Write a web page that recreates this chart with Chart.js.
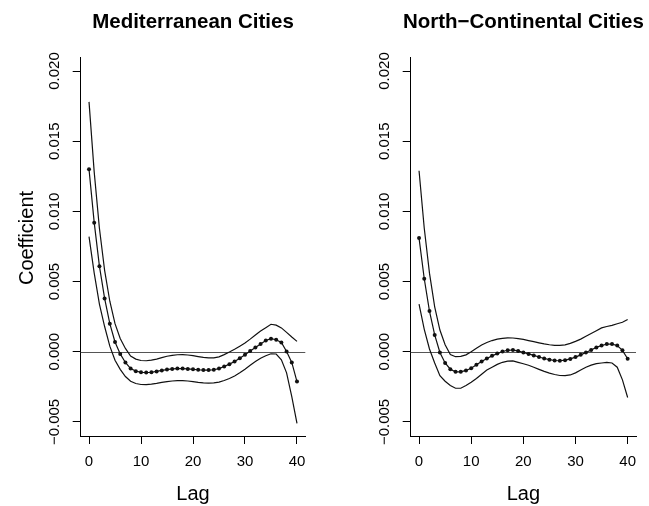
<!DOCTYPE html>
<html>
<head>
<meta charset="utf-8">
<script src="https://cdn.jsdelivr.net/npm/chart.js@4.4.1/dist/chart.umd.min.js"></script>
<style>
    html, body { margin: 0; padding: 0; background: #fff; }
    #wrap { position: relative; width: 649px; height: 506px; }
    canvas { position: absolute; top: 0; }
    #chart-med { left: 0; }
    #chart-nc { left: 330px; }
</style>
</head>
<body>
<div id="wrap">
    <canvas id="chart-med" width="330" height="506"></canvas>
    <canvas id="chart-nc" width="319" height="506"></canvas>
</div>
<script>
const lags = [0, 1, 2, 3, 4, 5, 6, 7, 8, 9, 10, 11, 12, 13, 14, 15, 16, 17, 18, 19, 20,
    21, 22, 23, 24, 25, 26, 27, 28, 29, 30, 31, 32, 33, 34, 35, 36, 37, 38, 39, 40];

// Mediterranean cities
const medCoef = [0.0130, 0.0092, 0.0061, 0.0038, 0.0020, 0.0007, -0.00015, -0.00076, -0.0012, -0.00138, -0.00146,
    -0.00148, -0.00146, -0.00140, -0.00133, -0.00127, -0.00122, -0.00120, -0.00120, -0.00122, -0.00125,
    -0.00128, -0.00130, -0.00130, -0.00128, -0.00120, -0.00105, -0.00088, -0.00069, -0.00046, -0.00021,
    0.00005, 0.00030, 0.00056, 0.00080, 0.00093, 0.00086, 0.00066, 0.00002, -0.00076, -0.00212];
const medUpper = [0.0178, 0.0128, 0.0088, 0.0058, 0.0036, 0.0020, 0.00095, 0.00024, -0.00030, -0.00052, -0.00062,
    -0.00064, -0.00060, -0.00052, -0.00042, -0.00032, -0.00025, -0.00021, -0.00020, -0.00023, -0.00028,
    -0.00034, -0.00040, -0.00044, -0.00043, -0.00036, -0.00020, -0.00002, 0.00018, 0.00040, 0.00062,
    0.00090, 0.00120, 0.00148, 0.00172, 0.00196, 0.00190, 0.00170, 0.00138, 0.00105, 0.00074];
const medLower = [0.0082, 0.0056, 0.0034, 0.0018, 0.0004, -0.0006, -0.00125, -0.00176, -0.0021, -0.00226, -0.00233,
    -0.00234, -0.00230, -0.00225, -0.00218, -0.00212, -0.00208, -0.00206, -0.00206, -0.00208, -0.00212,
    -0.00218, -0.00222, -0.00224, -0.00222, -0.00216, -0.00205, -0.00190, -0.00172, -0.00150, -0.00124,
    -0.00096, -0.00070, -0.00046, -0.00028, -0.00014, -0.00016, -0.00057, -0.00150, -0.00320, -0.00510];

// North-continental cities
const ncCoef = [0.0081, 0.0052, 0.0029, 0.0012, -0.00005, -0.0008, -0.00124, -0.00143, -0.00143, -0.00133, -0.00117,
    -0.00093, -0.00069, -0.00048, -0.00029, -0.00013, 0.00002, 0.00011, 0.00012, 0.00006, -0.00005,
    -0.00015, -0.00026, -0.00037, -0.00048, -0.00056, -0.00062, -0.00064, -0.00060, -0.00051, -0.00038,
    -0.00022, -0.00005, 0.00013, 0.00031, 0.00045, 0.00055, 0.00055, 0.00045, 0.00010, -0.00050];
const ncUpper = [0.0129, 0.0088, 0.0056, 0.0032, 0.00155, 0.0005, -0.0002, -0.00035, -0.00033, -0.00022, 0.0000,
    0.00025, 0.00048, 0.00066, 0.00080, 0.00090, 0.00096, 0.00099, 0.00098, 0.00094, 0.00088,
    0.00080, 0.00072, 0.00064, 0.00056, 0.00050, 0.00046, 0.00045, 0.00049, 0.00060, 0.00074,
    0.00090, 0.00110, 0.00130, 0.00150, 0.00170, 0.00180, 0.00188, 0.00200, 0.00210, 0.00230];
const ncLower = [0.0034, 0.0016, 0.0002, -0.0008, -0.0017, -0.0021, -0.0024, -0.0026, -0.0026, -0.0024, -0.00217,
    -0.0019, -0.0016, -0.0013, -0.0011, -0.0009, -0.00075, -0.00066, -0.00065, -0.00075, -0.00085,
    -0.00096, -0.0011, -0.00125, -0.0014, -0.00152, -0.00162, -0.00169, -0.0017, -0.00165, -0.0015,
    -0.0013, -0.0011, -0.00095, -0.00085, -0.0008, -0.00076, -0.0008, -0.0011, -0.0020, -0.00326];

const xTicks = [0, 10, 20, 30, 40];
const yTicks = [-0.005, 0, 0.005, 0.010, 0.015, 0.020];

const FONT = '"Liberation Sans", Arial, Helvetica, sans-serif';

const refLine = {
    id: 'refLine',
    beforeDatasetsDraw(chart) {
        const { ctx, chartArea, scales } = chart;
        const y = Math.round(scales.y.getPixelForValue(0)) + 0.5;
        ctx.save();
        ctx.strokeStyle = '#555';
        ctx.lineWidth = 1;
        ctx.beginPath();
        ctx.moveTo(chartArea.left, y);
        ctx.lineTo(chartArea.right, y);
        ctx.stroke();
        ctx.restore();
    }
};

const panelText = {
    id: 'panelText',
    afterDraw(chart, args, opts) {
        const { ctx, chartArea } = chart;
        const cx = (chartArea.left + chartArea.right) / 2;
        ctx.save();
        ctx.fillStyle = '#000';
        ctx.textAlign = 'center';
        ctx.textBaseline = 'alphabetic';
        ctx.font = 'bold 20.5px ' + FONT;
        ctx.fillText(opts.title, cx, 28);
        ctx.font = '20px ' + FONT;
        ctx.fillText('Lag', cx, 500);
        if (opts.yTitle) {
            ctx.translate(33, 238);
            ctx.rotate(-Math.PI / 2);
            ctx.fillText(opts.yTitle, 0, 0);
        }
        ctx.restore();
    }
};

function toPoints(values) {
    return lags.map((lag, i) => ({ x: lag, y: values[i] }));
}

const axisGrid = { display: true, drawOnChartArea: false, drawTicks: true, tickLength: 8, color: '#000', lineWidth: 1 };
const axisBorder = { display: true, color: '#000', width: 1 };

function drawPanel(canvasId, title, coef, upper, lower, rightPad, yTitle) {
    const ctx = document.getElementById(canvasId);
    return new Chart(ctx, {
        type: 'line',
        data: {
            datasets: [
                {
                    data: toPoints(upper),
                    borderColor: '#111',
                    borderWidth: 1.2,
                    pointRadius: 0,
                    tension: 0
                },
                {
                    data: toPoints(coef),
                    borderColor: '#111',
                    backgroundColor: '#111',
                    borderWidth: 1.2,
                    pointRadius: 2,
                    pointBorderWidth: 0,
                    tension: 0
                },
                {
                    data: toPoints(lower),
                    borderColor: '#111',
                    borderWidth: 1.2,
                    pointRadius: 0,
                    tension: 0
                }
            ]
        },
        options: {
            responsive: false,
            animation: false,
            devicePixelRatio: 1,
            layout: { padding: { top: 57, right: rightPad, left: 0, bottom: 0 } },
            plugins: {
                legend: { display: false },
                tooltip: { enabled: false },
                panelText: { title: title, yTitle: yTitle }
            },
            scales: {
                x: {
                    type: 'linear',
                    min: -1.6,
                    max: 41.6,
                    afterBuildTicks(scale) { scale.ticks = xTicks.map(v => ({ value: v })); },
                    afterFit(scale) { scale.height = 70; },
                    grid: axisGrid,
                    border: axisBorder,
                    ticks: {
                        color: '#000',
                        font: { family: FONT, size: 15 },
                        padding: 9,
                        maxRotation: 0,
                        autoSkip: false,
                        callback(value) { return String(value); }
                    }
                },
                y: {
                    type: 'linear',
                    min: -0.006,
                    max: 0.021,
                    afterBuildTicks(scale) { scale.ticks = yTicks.map(v => ({ value: v })); },
                    afterFit(scale) { scale.width = 80.7; },
                    grid: axisGrid,
                    border: axisBorder,
                    ticks: {
                        color: '#000',
                        font: { family: FONT, size: 15 },
                        minRotation: 90,
                        maxRotation: 90,
                        crossAlign: 'center',
                        padding: -5,
                        autoSkip: false,
                        callback(value) { return value.toFixed(3).replace('-', '\u2212'); }
                    }
                }
            }
        },
        plugins: [refLine, panelText]
    });
}

drawPanel('chart-med', 'Mediterranean Cities', medCoef, medUpper, medLower, 24.7, 'Coefficient');
drawPanel('chart-nc', 'North\u2212Continental Cities', ncCoef, ncUpper, ncLower, 13, null);
</script>
</body>
</html>
